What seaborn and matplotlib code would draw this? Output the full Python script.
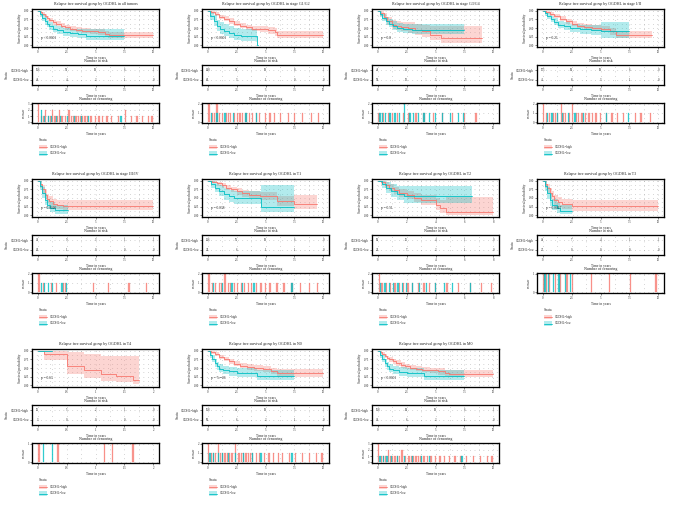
import numpy as np
import matplotlib
matplotlib.use("Agg")
import matplotlib.pyplot as plt
import seaborn as sns
from matplotlib.patches import Rectangle
from matplotlib.lines import Line2D

HIGH = "#F8766D"
LOW = "#00BFC4"
GROUPS = ["OGDHL=high", "OGDHL=low"]

# ---- survival curves: (time, surv, lower, upper) ----
all_high = ([0, 0.2, 0.4, 0.6, 0.8, 1.0, 1.3, 1.6, 2.0, 2.4, 2.8, 3.3, 3.8, 4.5, 5.2, 5.8, 6.2, 10.0],
            [1, 0.95, 0.9, 0.84, 0.78, 0.73, 0.67, 0.62, 0.56, 0.52, 0.48, 0.45, 0.42, 0.40, 0.37, 0.33, 0.30, 0.30],
            [1, 0.91, 0.85, 0.78, 0.72, 0.66, 0.6, 0.55, 0.49, 0.45, 0.41, 0.38, 0.35, 0.32, 0.29, 0.25, 0.22, 0.22],
            [1, 0.98, 0.95, 0.9, 0.85, 0.8, 0.74, 0.69, 0.64, 0.6, 0.56, 0.53, 0.5, 0.48, 0.46, 0.42, 0.39, 0.39])
all_low = ([0, 0.2, 0.4, 0.6, 0.8, 1.0, 1.3, 1.7, 2.2, 2.8, 3.5, 4.2, 7.5],
           [1, 0.9, 0.8, 0.7, 0.62, 0.55, 0.48, 0.43, 0.38, 0.35, 0.32, 0.27, 0.27],
           [1, 0.83, 0.71, 0.6, 0.52, 0.45, 0.38, 0.33, 0.28, 0.25, 0.21, 0.15, 0.15],
           [1, 0.97, 0.9, 0.82, 0.74, 0.67, 0.6, 0.56, 0.51, 0.48, 0.47, 0.47, 0.47])

g12_high = ([0, 0.3, 0.6, 1.0, 1.4, 1.8, 2.3, 2.8, 3.3, 3.8, 4.5, 5.2, 5.8, 6.0, 10.0],
            [1, 0.95, 0.9, 0.83, 0.77, 0.7, 0.63, 0.57, 0.52, 0.48, 0.46, 0.43, 0.38, 0.3, 0.3],
            [1, 0.91, 0.85, 0.77, 0.7, 0.63, 0.55, 0.49, 0.44, 0.4, 0.37, 0.34, 0.28, 0.2, 0.2],
            [1, 0.98, 0.95, 0.89, 0.84, 0.78, 0.71, 0.65, 0.6, 0.57, 0.55, 0.53, 0.5, 0.42, 0.42])
g12_low = ([0, 0.2, 0.5, 0.8, 1.1, 1.4, 1.8, 2.3, 2.9, 4.3, 4.35],
           [1, 0.85, 0.7, 0.55, 0.48, 0.42, 0.35, 0.3, 0.27, 0.0, 0.0],
           [1, 0.72, 0.55, 0.4, 0.33, 0.27, 0.2, 0.16, 0.13, 0, 0],
           [1, 0.97, 0.87, 0.74, 0.67, 0.62, 0.55, 0.5, 0.47, 0, 0])

g34_high = ([0, 0.2, 0.5, 0.8, 1.2, 1.6, 2.0, 2.6, 3.2, 3.8, 4.5, 5.5, 9.0],
            [1, 0.93, 0.82, 0.7, 0.6, 0.57, 0.53, 0.5, 0.45, 0.4, 0.3, 0.2, 0.2],
            [1, 0.85, 0.72, 0.58, 0.47, 0.44, 0.4, 0.36, 0.3, 0.25, 0.15, 0.06, 0.06],
            [1, 0.99, 0.92, 0.82, 0.74, 0.71, 0.68, 0.66, 0.62, 0.58, 0.55, 0.55, 0.55])
g34_low = ([0, 0.2, 0.4, 0.7, 1.0, 1.3, 1.7, 2.2, 3.0, 7.5],
           [1, 0.9, 0.8, 0.7, 0.62, 0.55, 0.5, 0.47, 0.45, 0.45],
           [1, 0.83, 0.71, 0.6, 0.52, 0.44, 0.38, 0.35, 0.32, 0.32],
           [1, 0.97, 0.9, 0.82, 0.75, 0.69, 0.65, 0.62, 0.62, 0.62])

s12_high = ([0, 0.3, 0.6, 1.0, 1.5, 2.0, 2.5, 3.0, 3.6, 4.3, 5.0, 5.8, 6.3, 9.5],
            [1, 0.95, 0.9, 0.84, 0.77, 0.7, 0.63, 0.57, 0.53, 0.5, 0.46, 0.4, 0.3, 0.3],
            [1, 0.91, 0.85, 0.78, 0.7, 0.63, 0.55, 0.49, 0.45, 0.41, 0.37, 0.3, 0.2, 0.2],
            [1, 0.98, 0.95, 0.9, 0.84, 0.77, 0.7, 0.65, 0.61, 0.58, 0.55, 0.5, 0.42, 0.42])
s12_low = ([0, 0.2, 0.4, 0.7, 1.0, 1.3, 1.8, 2.4, 3.2, 4.2, 5.0, 7.5],
           [1, 0.92, 0.84, 0.76, 0.68, 0.6, 0.55, 0.5, 0.47, 0.44, 0.4, 0.4],
           [1, 0.86, 0.76, 0.67, 0.58, 0.5, 0.44, 0.39, 0.34, 0.3, 0.2, 0.2],
           [1, 0.98, 0.92, 0.85, 0.78, 0.7, 0.66, 0.62, 0.6, 0.6, 0.68, 0.68])

s34_high = ([0, 0.2, 0.4, 0.6, 0.8, 1.0, 1.3, 1.7, 2.2, 10],
            [1, 0.9, 0.75, 0.6, 0.48, 0.4, 0.33, 0.3, 0.27, 0.27],
            [1, 0.8, 0.62, 0.47, 0.35, 0.28, 0.2, 0.17, 0.14, 0.14],
            [1, 0.98, 0.88, 0.74, 0.62, 0.55, 0.48, 0.45, 0.45, 0.45])
s34_low = ([0, 0.2, 0.4, 0.6, 0.8, 1.1, 1.5, 2.6],
           [1, 0.85, 0.65, 0.45, 0.3, 0.22, 0.15, 0.15],
           [1, 0.72, 0.5, 0.3, 0.17, 0.1, 0.05, 0.05],
           [1, 0.98, 0.82, 0.62, 0.47, 0.38, 0.3, 0.3])

t1_high = ([0, 0.4, 0.8, 1.2, 1.6, 2.0, 2.5, 3.0, 3.6, 4.5, 5.5, 6.0, 7.5, 9.5],
           [1, 0.96, 0.92, 0.87, 0.8, 0.75, 0.7, 0.64, 0.6, 0.55, 0.55, 0.42, 0.33, 0.33],
           [1, 0.92, 0.86, 0.8, 0.72, 0.66, 0.6, 0.54, 0.49, 0.43, 0.43, 0.28, 0.18, 0.18],
           [1, 0.99, 0.97, 0.93, 0.87, 0.83, 0.79, 0.74, 0.71, 0.68, 0.68, 0.57, 0.58, 0.58])
t1_low = ([0, 0.3, 0.6, 1.0, 1.4, 1.8, 2.3, 4.6, 7.5],
          [1, 0.9, 0.8, 0.7, 0.62, 0.55, 0.5, 0.25, 0.25],
          [1, 0.8, 0.66, 0.55, 0.45, 0.38, 0.33, 0.1, 0.1],
          [1, 0.98, 0.93, 0.87, 0.8, 0.74, 0.7, 0.88, 0.88])

t2_high = ([0, 0.2, 0.5, 0.8, 1.1, 1.5, 2.0, 2.5, 3.0, 4.0, 4.3, 4.7, 8.0],
           [1, 0.95, 0.88, 0.8, 0.72, 0.65, 0.58, 0.5, 0.43, 0.3, 0.2, 0.1, 0.1],
           [1, 0.89, 0.8, 0.7, 0.61, 0.53, 0.46, 0.37, 0.3, 0.15, 0.06, 0.0, 0.0],
           [1, 0.99, 0.96, 0.9, 0.83, 0.77, 0.71, 0.64, 0.58, 0.5, 0.45, 0.52, 0.52])
t2_low = ([0, 0.3, 0.6, 0.9, 1.3, 1.8, 6.5],
          [1, 0.9, 0.8, 0.7, 0.62, 0.55, 0.55],
          [1, 0.78, 0.64, 0.52, 0.44, 0.36, 0.36],
          [1, 0.99, 0.96, 0.9, 0.86, 0.84, 0.84])

t3_high = ([0, 0.2, 0.4, 0.6, 0.8, 1.0, 1.3, 1.7, 2.5, 10],
           [1, 0.9, 0.78, 0.65, 0.55, 0.45, 0.38, 0.32, 0.27, 0.27],
           [1, 0.8, 0.65, 0.51, 0.41, 0.31, 0.24, 0.18, 0.12, 0.12],
           [1, 0.98, 0.9, 0.79, 0.7, 0.6, 0.54, 0.48, 0.45, 0.45])
t3_low = ([0, 0.2, 0.4, 0.6, 0.8, 1.2, 1.5, 2.5],
          [1, 0.85, 0.65, 0.45, 0.3, 0.2, 0.12, 0.12],
          [1, 0.7, 0.48, 0.28, 0.15, 0.08, 0.03, 0.03],
          [1, 0.98, 0.83, 0.63, 0.48, 0.38, 0.3, 0.3])

t4_high = ([0, 0.1, 0.5, 0.8, 1.1, 1.35, 1.65, 1.75],
           [1, 0.9, 0.57, 0.45, 0.33, 0.28, 0.15, 0.15],
           [1, 0.72, 0.32, 0.2, 0.12, 0.1, 0.03, 0.03],
           [1, 1.0, 0.95, 0.9, 0.85, 0.85, 0.85, 0.85])
t4_low = ([0, 0.25], [1, 1], [1, 1], [1, 1])

n0_high = ([0, 0.3, 0.6, 1.0, 1.4, 1.8, 2.3, 2.8, 3.4, 4.0, 4.8, 5.5, 6.0, 10],
           [1, 0.95, 0.9, 0.83, 0.76, 0.7, 0.63, 0.57, 0.53, 0.5, 0.47, 0.42, 0.35, 0.35],
           [1, 0.91, 0.85, 0.77, 0.7, 0.63, 0.56, 0.5, 0.45, 0.42, 0.39, 0.33, 0.25, 0.25],
           [1, 0.98, 0.95, 0.89, 0.83, 0.77, 0.7, 0.65, 0.61, 0.58, 0.56, 0.51, 0.47, 0.47])
n0_low = ([0, 0.2, 0.4, 0.6, 0.8, 1.0, 1.3, 1.8, 2.5, 4.3, 7.5],
          [1, 0.88, 0.76, 0.64, 0.55, 0.48, 0.43, 0.4, 0.35, 0.27, 0.27],
          [1, 0.8, 0.66, 0.53, 0.44, 0.37, 0.32, 0.28, 0.24, 0.16, 0.16],
          [1, 0.96, 0.87, 0.77, 0.68, 0.62, 0.57, 0.54, 0.5, 0.45, 0.45])

m0_high = ([0, 0.2, 0.4, 0.6, 0.8, 1.0, 1.3, 1.6, 2.0, 2.4, 2.8, 3.3, 3.8, 4.5, 5.2, 5.8, 6.2, 10.0],
           [1, 0.95, 0.9, 0.85, 0.8, 0.75, 0.7, 0.65, 0.59, 0.55, 0.51, 0.48, 0.45, 0.43, 0.4, 0.36, 0.33, 0.33],
           [1, 0.91, 0.85, 0.79, 0.73, 0.68, 0.62, 0.57, 0.51, 0.47, 0.43, 0.4, 0.37, 0.35, 0.31, 0.27, 0.24, 0.24],
           [1, 0.98, 0.95, 0.91, 0.86, 0.82, 0.77, 0.72, 0.66, 0.62, 0.58, 0.55, 0.53, 0.51, 0.49, 0.45, 0.43, 0.43])
m0_low = ([0, 0.2, 0.4, 0.6, 0.8, 1.0, 1.3, 1.8, 2.5, 4.0, 7.5],
          [1, 0.88, 0.76, 0.65, 0.56, 0.48, 0.43, 0.39, 0.35, 0.27, 0.27],
          [1, 0.8, 0.66, 0.54, 0.45, 0.37, 0.32, 0.28, 0.24, 0.16, 0.16],
          [1, 0.96, 0.87, 0.77, 0.68, 0.62, 0.57, 0.53, 0.5, 0.45, 0.45])

# ---- numbers at risk (high row, low row) ----
all_risk = ([156, 59, 19, 6, 1], [48, 4, 2, 1, 0])
g12_risk = ([148, 51, 19, 8, 1], [20, 3, 1, 0, 0])
g34_risk = ([48, 13, 3, 1, 0], [38, 13, 5, 2, 0])
s12_risk = ([175, 69, 19, 6, 0], [41, 8, 3, 1, 0])
s34_risk = ([49, 9, 3, 1, 1], [28, 1, 0, 0, 0])
t1_risk = ([126, 55, 19, 6, 0], [24, 6, 1, 1, 0])
t2_risk = ([69, 16, 4, 1, 0], [23, 7, 2, 1, 0])
t3_risk = ([45, 7, 4, 1, 1], [27, 0, 0, 0, 0])
t4_risk = ([10, 5, 2, 1, 0], [3, 0, 0, 0, 0])
n0_risk = ([158, 61, 19, 5, 1], [50, 6, 2, 1, 0])
m0_risk = ([158, 60, 19, 6, 1], [49, 6, 2, 1, 0])

# ---- censoring times (repeated value = several censored at once) ----
all_cens = ([0.05, 0.05, 0.05, 0.3, 0.5, 0.7, 0.7, 0.9, 1.1, 1.3, 1.3, 1.5, 1.7, 1.9, 1.9, 2.1, 2.4, 2.7, 2.7,
             2.9, 3.1, 3.3, 3.5, 3.7, 3.9, 4.1, 4.3, 4.6, 5.0, 5.3, 5.6, 6.0, 6.4, 7.0, 7.6, 7.6, 8.1, 8.6,
             9.1, 9.6, 9.9],
            [0.3, 0.3, 0.6, 0.9, 1.2, 1.6, 2.0, 2.6, 3.2, 3.8, 4.4, 7.2])
g12_cens = ([0.1, 0.1, 0.4, 0.6, 0.8, 0.8, 1.0, 1.3, 1.6, 1.8, 2.0, 2.3, 2.6, 2.8, 3.0, 3.3, 3.6, 3.9, 4.2,
             4.5, 5.0, 5.4, 5.8, 6.3, 7.0, 7.5, 8.2, 9.0, 9.6],
            [0.3, 0.8, 1.5, 2.2, 3.3, 4.2])
g34_cens = ([0.1, 0.5, 0.9, 1.3, 1.7, 2.2, 2.7, 3.3, 4.0, 4.8, 5.6, 6.5, 7.5, 8.5],
            [0.2, 0.4, 0.7, 1.0, 1.1, 1.5, 1.9, 2.3, 2.3, 2.8, 3.1, 3.5, 4.0, 4.5, 5.0, 5.6, 6.3, 7.0, 7.4])
s12_cens = ([0.05, 0.05, 0.3, 0.6, 0.9, 1.1, 1.3, 1.6, 1.6, 1.8, 2.0, 2.3, 2.6, 2.6, 2.9, 3.1, 3.4, 3.7,
             4.0, 4.3, 4.6, 5.0, 5.5, 6.0, 6.5, 7.0, 8.0, 8.5, 9.3],
            [0.4, 0.8, 1.3, 1.7, 2.2, 2.8, 3.5, 5.5, 7.4])
s34_cens = ([0.1, 0.1, 0.5, 1.2, 1.6, 2.2, 2.4, 4.8, 6.1, 7.9, 9.4],
            [0.3, 0.6, 0.9, 1.3, 2.1, 2.5])
t1_cens = ([0.1, 0.1, 0.4, 0.7, 1.0, 1.2, 1.5, 1.5, 1.8, 2.0, 2.3, 2.6, 2.9, 3.2, 3.5, 3.8, 4.2, 4.6, 5.0,
            5.4, 6.0, 6.6, 7.3, 8.0, 8.8, 9.5],
           [0.5, 1.3, 2.1, 3.0, 4.0, 7.3])
t2_cens = ([0.1, 0.1, 0.3, 0.6, 0.9, 1.2, 1.5, 1.8, 2.1, 2.4, 2.8, 3.2, 3.6, 4.0, 4.8, 5.6, 6.4, 7.2, 7.9],
           [0.2, 0.5, 0.8, 1.1, 1.4, 1.7, 2.0, 2.4, 2.9, 3.4, 4.0, 4.6, 5.2, 6.4])
t3_cens = ([0.1, 0.3, 0.6, 1.1, 1.5, 2.1, 2.6, 4.2, 5.8, 7.6, 9.8],
           [0.2, 0.5, 0.9, 1.4, 2.0, 2.4])
t4_cens = ([0.02, 0.35, 1.15, 1.3, 1.65], [0.1, 0.25])
n0_cens = ([0.05, 0.05, 0.3, 0.5, 0.7, 0.9, 0.9, 1.1, 1.3, 1.5, 1.7, 1.9, 2.1, 2.4, 2.4, 2.7, 2.9, 3.1, 3.3,
            3.5, 3.7, 3.9, 4.2, 4.5, 4.9, 5.3, 5.7, 6.1, 6.5, 7.1, 7.6, 8.2, 8.8, 9.4, 9.9],
           [0.2, 0.5, 0.9, 1.3, 1.8, 2.4, 3.1, 3.9, 4.6, 7.3])
m0_cens = ([0.05, 0.05, 0.05, 0.3, 0.5, 0.7, 0.9, 0.9, 1.1, 1.3, 1.5, 1.7, 1.9, 2.1, 2.1, 2.4, 2.7, 2.9,
            3.1, 3.3, 3.5, 3.7, 4.0, 4.3, 4.6, 5.0, 5.4, 5.8, 6.2, 6.7, 7.2, 7.7, 8.3, 8.9, 9.5, 9.9],
           [0.2, 0.5, 0.8, 1.2, 1.7, 2.3, 3.0, 3.8, 4.5, 7.3])

TICKS10 = [0, 2.5, 5, 7.5, 10]
panels = [
    ("all tumors", "p < 0.0001", 10, TICKS10, all_high, all_low, all_risk, all_cens),
    ("stage G1/G2", "p < 0.0001", 10, TICKS10, g12_high, g12_low, g12_risk, g12_cens),
    ("stage G3/G4", "p = 0.8", 10, TICKS10, g34_high, g34_low, g34_risk, g34_cens),
    ("stage I/II", "p = 0.21", 10, TICKS10, s12_high, s12_low, s12_risk, s12_cens),
    ("stage III/IV", "p = 0.0026", 10, TICKS10, s34_high, s34_low, s34_risk, s34_cens),
    ("T1", "p = 0.038", 10, TICKS10, t1_high, t1_low, t1_risk, t1_cens),
    ("T2", "p = 0.51", 8, [0, 2, 4, 6, 8], t2_high, t2_low, t2_risk, t2_cens),
    ("T3", "p = 0.0047", 10, TICKS10, t3_high, t3_low, t3_risk, t3_cens),
    ("T4", "p = 0.63", 2, [0, 0.5, 1, 1.5, 2], t4_high, t4_low, t4_risk, t4_cens),
    ("N0", "p = 7e\u221206", 10, TICKS10, n0_high, n0_low, n0_risk, n0_cens),
    ("M0", "p < 0.0001", 10, TICKS10, m0_high, m0_low, m0_risk, m0_cens),
]

sns.set_theme(style="white")
plt.rcParams["font.family"] = ["Liberation Serif", "DejaVu Serif"]

W, H = 674, 505
fig = plt.figure(figsize=(W / 100, H / 100), dpi=100)
fig.patch.set_facecolor("white")

COL_X = [32, 202, 372, 537]
ROW_Y = [0, 170, 340]
AX_W = 127
FS_T, FS_L, FS_K = 2.9, 2.6, 2.2
GRID = dict(color="#7f7f7f", lw=0.4, ls=(0, (1, 7)))


def px_axes(x, y, w, h):
    return fig.add_axes([x / W, 1 - (y + h) / H, w / W, h / H])


def px_text(x, y, s, **kw):
    fig.text(x / W, 1 - y / H, s, va="center", **kw)


def fmt(v):
    return f"{v:g}"


def base_axes(ax, xmax, ticks):
    pad = xmax * 0.05
    ax.set_xlim(-pad, xmax + pad)
    ax.set_xticks(ticks)
    ax.set_xticklabels([fmt(v) for v in ticks])
    mids = [(a + b) / 2 for a, b in zip(ticks[:-1], ticks[1:])]
    ax.set_xticks(mids, minor=True)
    ax.tick_params(axis="both", which="major", labelsize=FS_K, length=1.3, width=0.4, pad=0.8,
                   direction="out", bottom=True, left=True)
    ax.tick_params(axis="both", which="minor", length=0)
    ax.set_axisbelow(True)
    ax.grid(True, which="both", **GRID)
    for sp in ax.spines.values():
        sp.set_color("black")
        sp.set_linewidth(0.95)
    ax.set_facecolor("white")


for i, (name, pval, xmax, ticks, hi_c, lo_c, risk, cens) in enumerate(panels):
    r, c = divmod(i, 4)
    x0, y0 = COL_X[c], ROW_Y[r]
    xc = x0 + AX_W / 2

    # survival curve
    ax = px_axes(x0, y0 + 9, AX_W, 38)
    base_axes(ax, xmax, ticks)
    for curve, col in ((hi_c, HIGH), (lo_c, LOW)):
        t, s, lo, up = (np.asarray(v, float) for v in curve)
        ax.fill_between(t, lo, up, step="post", color=col, alpha=0.3, linewidth=0)
        sns.lineplot(x=t, y=s, ax=ax, color=col, drawstyle="steps-post", lw=0.6,
                     estimator=None, sort=False)
    ax.set_ylim(-0.05, 1.05)
    ax.set_yticks([0, 0.25, 0.5, 0.75, 1.0])
    ax.set_yticklabels(["0.00", "0.25", "0.50", "0.75", "1.00"])
    ax.set_yticks([0.125, 0.375, 0.625, 0.875], minor=True)
    ax.set_xlabel("Time in years", fontsize=FS_L, labelpad=1.5)
    ax.set_ylabel("Survival probability", fontsize=FS_L, labelpad=1.5)
    ax.text(xmax * 0.03, 0.2, pval, fontsize=FS_L, ha="left", va="center")
    px_text(xc, y0 + 4, f"Relapse free survival group by OGDHL in {name}",
            fontsize=FS_T, ha="center")

    # number at risk table
    px_text(xc, y0 + 61, "Number at risk", fontsize=FS_T, ha="center")
    ax = px_axes(x0, y0 + 65, AX_W, 20)
    base_axes(ax, xmax, ticks)
    ax.grid(False, which="both", axis="y")
    for row, vals in zip((1, 0), risk):
        ax.axhline(row, zorder=0, **GRID)
        for tv, n in zip(ticks, vals):
            ax.text(tv, row, str(n), fontsize=FS_K, ha="center", va="center")
    ax.set_ylim(-0.55, 1.55)
    ax.set_yticks([1, 0])
    ax.set_yticklabels(GROUPS)
    ax.set_xlabel("Time in years", fontsize=FS_L, labelpad=1.5)
    ax.set_ylabel("Strata", fontsize=FS_L, labelpad=1.5)

    # number of censoring
    px_text(xc, y0 + 99, "Number of censoring", fontsize=FS_T, ha="center")
    ax = px_axes(x0, y0 + 103, AX_W, 20)
    base_axes(ax, xmax, ticks)
    top = 1
    for times, col in zip(cens, (HIGH, LOW)):
        tt, nn = np.unique(np.asarray(times, float), return_counts=True)
        top = max(top, nn.max())
        ax.bar(tt, nn, width=xmax * 0.011, color=col, alpha=0.75, edgecolor=col, lw=0.2)
    ax.set_ylim(-0.05 * top, top * 1.05)
    ax.set_yticks(range(top + 1))
    ax.set_xlabel("Time in years", fontsize=FS_L, labelpad=1.5)
    ax.set_ylabel("n.censor", fontsize=FS_K, labelpad=1.5)

    # legend
    lx = x0 + 7
    px_text(lx, y0 + 140, "Strata", fontsize=FS_L, ha="left")
    for k, (lab, col) in enumerate(zip(GROUPS, (HIGH, LOW))):
        yy = y0 + 147 + k * 6.5
        fig.add_artist(Rectangle((lx / W, 1 - (yy + 2.2) / H), 8 / W, 4.4 / H,
                                 transform=fig.transFigure, facecolor=col, alpha=0.3, lw=0))
        fig.add_artist(Line2D([lx / W, (lx + 8) / W], [1 - yy / H, 1 - yy / H],
                              transform=fig.transFigure, color=col, lw=0.6))
        px_text(lx + 11, yy, lab, fontsize=FS_K, ha="left")

fig.savefig("out.png", dpi=100, facecolor="white")
